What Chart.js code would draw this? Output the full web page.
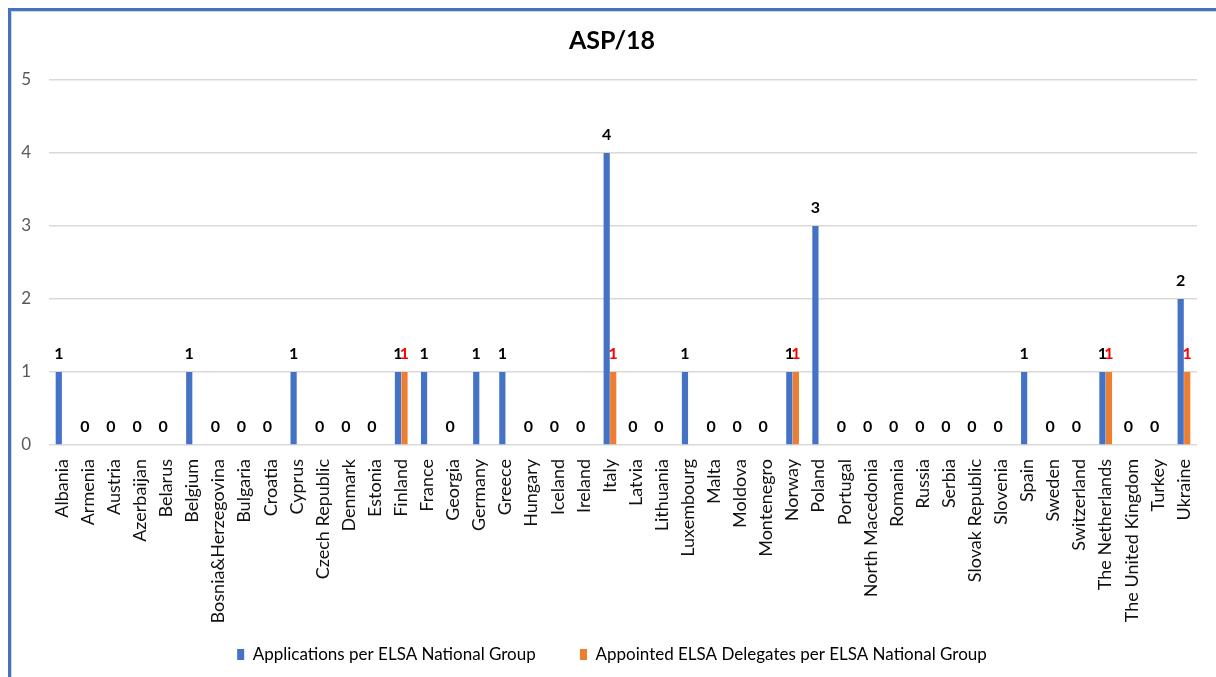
<!DOCTYPE html>
<html>
<head>
<meta charset="utf-8">
<script src="https://cdn.jsdelivr.net/npm/chart.js@4.4.1/dist/chart.umd.min.js"></script>
<style>
  html, body { margin: 0; padding: 0; background: #fff; overflow: hidden; }
  #wrap { position: relative; width: 1216px; height: 677px; }
  #frame { position: absolute; left: 8px; top: 8px; right: -20px; bottom: -20px;
           border-top: 3px solid #4472C4; border-left: 3px solid #4472C4;
           box-shadow: inset 1px 1px 0 #d4d4d4; pointer-events: none; }
</style>
</head>
<body>
<div id="wrap">
  <canvas id="c"></canvas>
  <div id="frame"></div>
</div>
<script>
const categories = ["Albania","Armenia","Austria","Azerbaijan","Belarus","Belgium","Bosnia&Herzegovina","Bulgaria","Croatia","Cyprus","Czech Republic","Denmark","Estonia","Finland","France","Georgia","Germany","Greece","Hungary","Iceland","Ireland","Italy","Latvia","Lithuania","Luxembourg","Malta","Moldova","Montenegro","Norway","Poland","Portugal","North Macedonia","Romania","Russia","Serbia","Slovak Republic","Slovenia","Spain","Sweden","Switzerland","The Netherlands","The United Kingdom","Turkey","Ukraine"];

const applications = [1,0,0,0,0,1,0,0,0,1,0,0,0,1,1,0,1,1,0,0,0,4,0,0,1,0,0,0,1,3,0,0,0,0,0,0,0,1,0,0,1,0,0,2];

const delegates = [null,null,null,null,null,null,null,null,null,null,null,null,null,1,null,null,null,null,null,null,null,1,null,null,null,null,null,null,1,null,null,null,null,null,null,null,null,null,null,null,1,null,null,1];

const seriesNames = ["Applications per ELSA National Group", "Appointed ELSA Delegates per ELSA National Group"];
const seriesColors = ["#4472C4", "#ED7D31"];
const labelColors = ["#000000", "#FF0000"];
const yTicks = [0,1,2,3,4,5];
const chartTitle = "ASP/18";

Chart.defaults.font.family = "Lato, 'Open Sans', sans-serif";

const valueLabels = {
  id: 'valueLabels',
  afterDatasetsDraw(chart) {
    const ctx = chart.ctx;
    chart.data.datasets.forEach((ds, di) => {
      const meta = chart.getDatasetMeta(di);
      meta.data.forEach((bar, i) => {
        const v = ds.data[i];
        if (v === null || v === undefined) return;
        ctx.save();
        ctx.font = "bold 16px Lato, sans-serif";
        ctx.fillStyle = labelColors[di];
        ctx.textAlign = 'center';
        ctx.textBaseline = 'middle';
        ctx.fillText(String(v), bar.x, bar.y - 18);
        ctx.restore();
      });
    });
  }
};

new Chart(document.getElementById('c'), {
  type: 'bar',
  data: {
    labels: categories,
    datasets: [
      { label: seriesNames[0], data: applications, backgroundColor: seriesColors[0],
        categoryPercentage: 0.5, barPercentage: 0.95 },
      { label: seriesNames[1], data: delegates, backgroundColor: seriesColors[1],
        categoryPercentage: 0.5, barPercentage: 0.95 }
    ]
  },
  options: {
    responsive: true,
    maintainAspectRatio: false,
    animation: false,
    layout: { padding: { left: 14, right: 6, top: 10, bottom: 4 } },
    plugins: {
      title: {
        display: true, text: chartTitle, color: '#000',
        font: { size: 25, weight: 'bold' },
        padding: { top: 16, bottom: 24 }
      },
      legend: {
        position: 'bottom',
        labels: {
          color: '#595959', font: { size: 17 },
          boxWidth: 7, boxHeight: 11, padding: 6,
          generateLabels(chart) {
            return chart.data.datasets.map((ds, i) => ({
              text: i === 0 ? ds.label + '\u2003\u2003\u2003' : ds.label,
              fillStyle: ds.backgroundColor,
              strokeStyle: ds.backgroundColor,
              lineWidth: 0,
              hidden: !chart.isDatasetVisible(i),
              datasetIndex: i
            }));
          }
        }
      },
      tooltip: { enabled: false }
    },
    scales: {
      x: {
        grid: { display: false },
        border: { display: false },
        ticks: { color: '#111', font: { size: 18 }, minRotation: 90, maxRotation: 90, autoSkip: false, padding: 6 },
        afterFit(scale) { scale.height = 195; }
      },
      y: {
        min: 0, max: 5,
        border: { display: false },
        grid: { color: '#d9d9d9', lineWidth: 1.5, drawTicks: false },
        ticks: {
          stepSize: 1, color: '#595959', font: { size: 17 }, padding: 18,
          callback(value) { return yTicks.includes(value) ? String(value) : ''; }
        },
        afterFit(scale) { scale.width = 35; }
      },
      yRight: {
        type: 'linear', position: 'right', min: 0, max: 5,
        border: { display: false },
        grid: { display: false, drawTicks: false },
        ticks: { display: false },
        afterFit(scale) { scale.width = 13; }
      }
    }
  },
  plugins: [valueLabels]
});
</script>
</body>
</html>
